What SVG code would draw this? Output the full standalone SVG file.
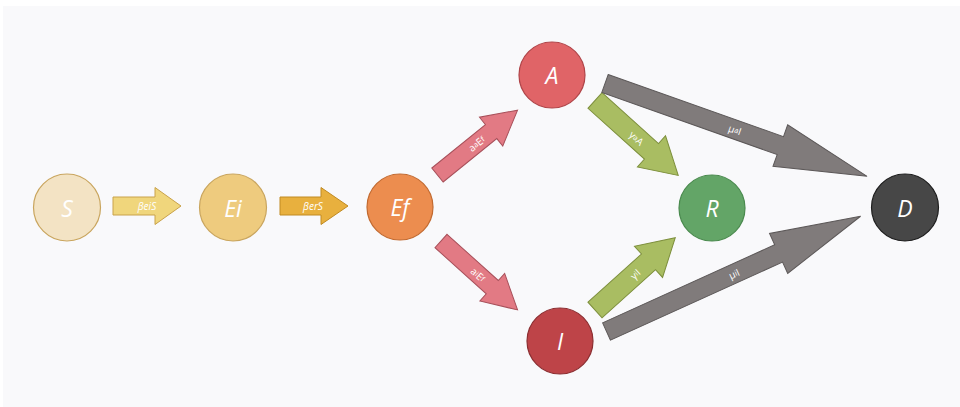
<svg xmlns="http://www.w3.org/2000/svg" width="960" height="407" viewBox="0 0 960 407">
  <style>
    .node-label { font-family: "Open Sans", "Noto Sans", sans-serif; font-style: italic; font-size: 23px; fill: #ffffff; text-anchor: middle; dominant-baseline: central; }
    .arrow-label { font-family: "Open Sans", "Noto Sans", sans-serif; font-size: 10px; fill: #ffffff; text-anchor: middle; dominant-baseline: central; }
    .sub { font-size: 7.5px; }
    .a-yellow { fill: #f0d67c; stroke: #c9a24a; stroke-width: 1; }
    .a-amber { fill: #e8b03e; stroke: #c08a22; stroke-width: 1; }
    .a-pink { fill: #e27a84; stroke: #a8505a; stroke-width: 1; }
    .a-green { fill: #a9bd62; stroke: #7d8f3c; stroke-width: 1; }
    .a-grey { fill: #807b7b; stroke: #5c5858; stroke-width: 1; }
  </style>

  <!-- canvas -->
  <rect x="0" y="0" width="960" height="407" fill="#ffffff"/>
  <rect x="3" y="6" width="957" height="401" fill="#f9f9fb"/>

  <!-- connectors: block arrows drawn along +x, placed by translate/rotate -->
  <g id="connectors">
    <g transform="translate(113,206)">
      <path class="a-yellow" d="M0,-9 L42,-9 L42,-18.5 L68,0 L42,18.5 L42,9 L0,9 Z"/>
      <text class="arrow-label" x="34" y="0" font-style="italic">βeiS</text>
    </g>
    <g transform="translate(280,206)">
      <path class="a-amber" d="M0,-9 L41,-9 L41,-18.5 L68,0 L41,18.5 L41,9 L0,9 Z"/>
      <text class="arrow-label" x="33" y="0" font-style="italic">βerS</text>
    </g>
    <g transform="translate(437.5,175) rotate(-39)">
      <path class="a-pink" d="M0,-9 L69,-9 L69,-18.5 L103,0 L69,18.5 L69,9 L0,9 Z"/>
      <text class="arrow-label" x="50" y="0">a<tspan class="sub">a</tspan>E<tspan class="sub">f</tspan></text>
    </g>
    <g transform="translate(441,241) rotate(42)">
      <path class="a-pink" d="M0,-9 L69,-9 L69,-18.5 L103,0 L69,18.5 L69,9 L0,9 Z"/>
      <text class="arrow-label" x="50" y="0">a<tspan class="sub">i</tspan>E<tspan class="sub">f</tspan></text>
    </g>
    <g transform="translate(595,100.5) rotate(42)">
      <path class="a-green" d="M0,-10.5 L76,-10.5 L76,-21 L112,0 L76,21 L76,10.5 L0,10.5 Z"/>
      <text class="arrow-label" x="56" y="0">γ<tspan class="sub">a</tspan>A</text>
    </g>
    <g transform="translate(595,310) rotate(-42)">
      <path class="a-green" d="M0,-10.5 L72,-10.5 L72,-21 L108,0 L72,21 L72,10.5 L0,10.5 Z"/>
      <text class="arrow-label" x="54" y="0">γ<tspan class="sub">i</tspan>I</text>
    </g>
    <g transform="translate(605,83.5) rotate(19.5)">
      <path class="a-grey" d="M0,-9.5 L186,-9.5 L186,-22 L278,0 L186,22 L186,9.5 L0,9.5 Z"/>
      <text class="arrow-label" x="138" y="0">μ<tspan class="sub">a</tspan>I</text>
    </g>
    <g transform="translate(606.5,331.5) rotate(-24.4)">
      <path class="a-grey" d="M0,-9.5 L189,-9.5 L189,-22 L279,0 L189,22 L189,9.5 L0,9.5 Z"/>
      <text class="arrow-label" x="140" y="0">μ<tspan class="sub">i</tspan>I</text>
    </g>
  </g>

  <!-- compartments -->
  <g id="node-S">
    <circle cx="67" cy="207.5" r="33.5" fill="#f3e3c4" stroke="#c9a55e" stroke-width="1.2"/>
    <text class="node-label" x="67" y="207.5">S</text>
  </g>
  <g id="node-Ei">
    <circle cx="233" cy="207.5" r="33.5" fill="#eecb7e" stroke="#c9a55e" stroke-width="1.2"/>
    <text class="node-label" x="233" y="207.5">Ei</text>
  </g>
  <g id="node-Ef">
    <circle cx="400" cy="207" r="33" fill="#ec8d4f" stroke="#c26a30" stroke-width="1.2"/>
    <text class="node-label" x="400" y="207">Ef</text>
  </g>
  <g id="node-A">
    <circle cx="552" cy="75" r="33" fill="#e06467" stroke="#b04448" stroke-width="1.2"/>
    <text class="node-label" x="552" y="75">A</text>
  </g>
  <g id="node-R">
    <circle cx="712" cy="208" r="33" fill="#63a567" stroke="#4a8a4e" stroke-width="1.2"/>
    <text class="node-label" x="712" y="208">R</text>
  </g>
  <g id="node-I">
    <circle cx="560" cy="341" r="33" fill="#be4448" stroke="#8c2e31" stroke-width="1.2"/>
    <text class="node-label" x="560" y="341">I</text>
  </g>
  <g id="node-D">
    <circle cx="905" cy="207.5" r="33.5" fill="#474747" stroke="#1e1e1e" stroke-width="1.2"/>
    <text class="node-label" x="905" y="207.5">D</text>
  </g>
</svg>
